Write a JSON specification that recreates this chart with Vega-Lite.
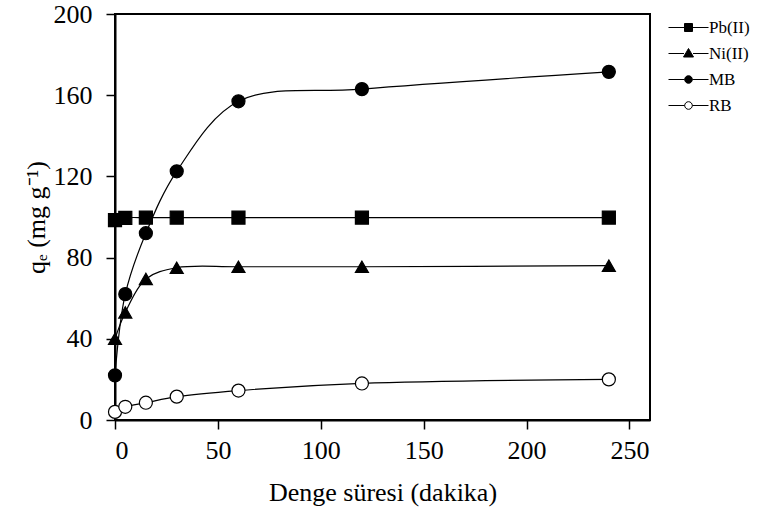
{
  "$schema": "https://vega.github.io/schema/vega-lite/v6.json",
  "width": 535,
  "height": 406,
  "autosize": "none",
  "padding": {"left": 115, "top": 14, "right": 107, "bottom": 110},
  "background": "white",
  "config": {
    "font": "'Liberation Serif', 'Times New Roman', serif",
    "view": {"stroke": "black", "strokeWidth": 2},
    "axis": {
      "grid": false,
      "domainColor": "black",
      "domainWidth": 2,
      "tickColor": "black",
      "tickWidth": 1.5,
      "tickSize": 9,
      "labelFont": "'Liberation Serif', 'Times New Roman', serif",
      "labelFontSize": 26,
      "labelColor": "black",
      "titleFont": "'Liberation Serif', 'Times New Roman', serif",
      "titleFontSize": 26,
      "titleFontWeight": "normal",
      "titleColor": "black"
    }
  },
  "data": {
    "values": [
      {"series": "Pb(II)", "t": 0, "q": 98.5},
      {"series": "Pb(II)", "t": 5, "q": 99.6},
      {"series": "Pb(II)", "t": 15, "q": 99.7},
      {"series": "Pb(II)", "t": 30, "q": 99.7},
      {"series": "Pb(II)", "t": 60, "q": 99.7},
      {"series": "Pb(II)", "t": 120, "q": 99.7},
      {"series": "Pb(II)", "t": 240, "q": 99.7},
      {"series": "Ni(II)", "t": 0, "q": 40},
      {"series": "Ni(II)", "t": 5, "q": 53},
      {"series": "Ni(II)", "t": 15, "q": 69.5},
      {"series": "Ni(II)", "t": 30, "q": 75},
      {"series": "Ni(II)", "t": 60, "q": 75.5},
      {"series": "Ni(II)", "t": 120, "q": 75.5},
      {"series": "Ni(II)", "t": 240, "q": 76},
      {"series": "MB", "t": 0, "q": 22},
      {"series": "MB", "t": 5, "q": 62},
      {"series": "MB", "t": 15, "q": 92},
      {"series": "MB", "t": 30, "q": 122.5},
      {"series": "MB", "t": 60, "q": 157},
      {"series": "MB", "t": 120, "q": 163},
      {"series": "MB", "t": 240, "q": 171.5},
      {"series": "RB", "t": 0, "q": 4},
      {"series": "RB", "t": 5, "q": 6.5},
      {"series": "RB", "t": 15, "q": 8.5},
      {"series": "RB", "t": 30, "q": 11.5},
      {"series": "RB", "t": 60, "q": 14.5},
      {"series": "RB", "t": 120, "q": 18},
      {"series": "RB", "t": 240, "q": 20}
    ]
  },
  "resolve": {"scale": {"shape": "independent", "fill": "independent"}},
  "layer": [
    {
      "mark": {"type": "line", "interpolate": "catmull-rom", "color": "black", "strokeWidth": 1.2},
      "encoding": {
        "x": {
          "field": "t", "type": "quantitative",
          "scale": {"domain": [0, 250]},
          "axis": {"values": [0, 50, 100, 150, 200, 250], "title": "Denge süresi (dakika)", "labelPadding": 8, "titlePadding": 16}
        },
        "y": {
          "field": "q", "type": "quantitative",
          "scale": {"domain": [0, 200]},
          "axis": {"values": [0, 40, 80, 120, 160, 200], "title": "qₑ (mg g⁻¹)", "labelPadding": 14, "titlePadding": 4}
        },
        "detail": {"field": "series"}
      }
    },
    {
      "mark": {"type": "point", "filled": true, "stroke": "black", "strokeWidth": 1.2, "size": 170, "opacity": 1},
      "encoding": {
        "x": {"field": "t", "type": "quantitative"},
        "y": {"field": "q", "type": "quantitative"},
        "shape": {
          "field": "series", "type": "nominal",
          "scale": {"domain": ["Pb(II)", "Ni(II)", "MB", "RB"], "range": ["square", "triangle-up", "circle", "circle"]},
          "legend": null
        },
        "fill": {
          "field": "series", "type": "nominal",
          "scale": {"domain": ["Pb(II)", "Ni(II)", "MB", "RB"], "range": ["black", "black", "black", "white"]},
          "legend": null
        }
      }
    },
    {
      "transform": [{"filter": "false"}],
      "mark": {"type": "point", "filled": true, "stroke": "black", "strokeWidth": 1, "opacity": 1},
      "encoding": {
        "x": {"field": "t", "type": "quantitative"},
        "y": {"field": "q", "type": "quantitative"},
        "shape": {
          "field": "series", "type": "nominal",
          "scale": {
            "domain": ["Pb(II)", "Ni(II)", "MB", "RB"],
            "range": [
              "M-2,0H-0.4M0.4,0H2M-0.4,-0.4H0.4V0.4H-0.4Z",
              "M-2,0H-0.45M0.45,0H2M0,-0.5L0.5,0.35H-0.5Z",
              "M-2,0H-0.38M0.38,0H2M-0.38,0A0.38,0.38 0 1,0 0.38,0A0.38,0.38 0 1,0 -0.38,0Z",
              "M-2,0H-0.38M0.38,0H2M-0.38,0A0.38,0.38 0 1,0 0.38,0A0.38,0.38 0 1,0 -0.38,0Z"
            ]
          },
          "legend": {
            "title": null,
            "orient": "none",
            "legendX": 563,
            "legendY": 3,
            "padding": 0,
            "symbolSize": 400,
            "symbolStrokeWidth": 1,
            "labelOffset": 10,
            "rowPadding": 7,
            "labelFont": "'Liberation Serif', 'Times New Roman', serif",
            "labelFontSize": 17,
            "labelColor": "black"
          }
        },
        "fill": {
          "field": "series", "type": "nominal",
          "scale": {"domain": ["Pb(II)", "Ni(II)", "MB", "RB"], "range": ["black", "black", "black", "white"]}
        }
      }
    }
  ]
}
